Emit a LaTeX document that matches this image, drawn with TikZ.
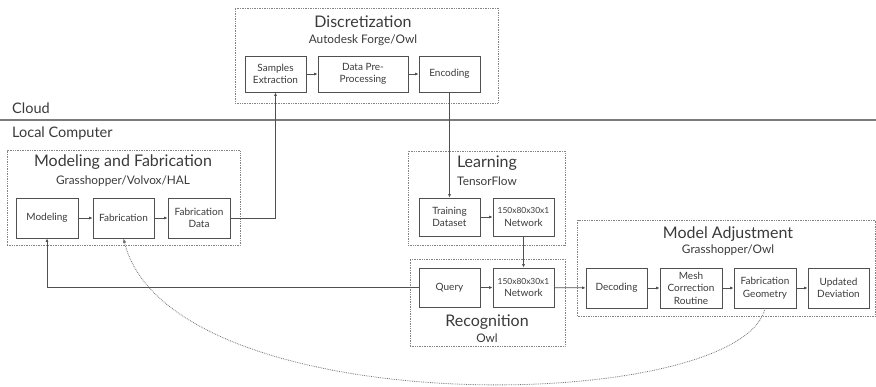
\documentclass[tikz,border=0pt]{standalone}
\usepackage{fontspec}
\setmainfont{Lato}
\usetikzlibrary{arrows.meta,positioning,calc}
\definecolor{myline}{HTML}{505050}
\definecolor{mytext}{HTML}{3A3A3A}
\tikzset{
  mybox/.style = {rectangle, draw=myline, line width=0.9pt, text=mytext, minimum width=61pt, minimum height=38pt, align=center, font=\fontsize{10}{12.5}\selectfont, inner sep=1pt},
  mygroup/.style = {rectangle, draw=myline!70, densely dotted, line width=0.7pt},
  mytitle/.style = {text=mytext, font=\fontsize{16}{18}\selectfont, inner sep=0pt},
  mysub/.style = {text=mytext, font=\fontsize{11.8}{13}\selectfont, inner sep=0pt},
  myarrow/.style = {-{Latex[length=3.4pt,width=3pt]}, draw=myline, line width=0.8pt},
  mydots/.style = {-{Latex[length=4.5pt,width=3.8pt]}, draw=myline!80, densely dotted, line width=0.8pt},
}
\newcommand{\netlabel}{{\fontsize{8.4}{10}\selectfont 150x80x30x1}\\Network}

\begin{document}
\begin{tikzpicture}[x=1pt,y=-1pt]
\useasboundingbox (0,0) rectangle (876,386);

% cloud / local split
\node[text=mytext, font=\fontsize{14.5}{16}\selectfont, anchor=west, inner sep=0pt] (cloud) at (12,108) {Cloud};
\node[text=mytext, font=\fontsize{14.5}{16}\selectfont, anchor=west, inner sep=0pt] (local) at (12,133) {Local Computer};
\draw[myline!75, line width=1.2pt] (0,120) -- (876,120);

% groups
\node[mygroup, minimum width=263pt, minimum height=95pt] (gdisc) at (366.5,55.5) {};
\node[mygroup, minimum width=233pt, minimum height=95pt] (gmod) at (123.5,198) {};
\node[mygroup, minimum width=157pt, minimum height=94pt] (glearn) at (486.5,198) {};
\node[mygroup, minimum width=155pt, minimum height=87pt] (grec) at (487.5,302.5) {};
\node[mygroup, minimum width=298pt, minimum height=96pt] (gadj) at (726.5,268) {};

\node[mytitle] (tdisc) at (363,22) {Discretization};
\node[mysub] (sdisc) at (363,40) {Autodesk Forge/Owl};
\node[mytitle] (tmod) at (123,162) {Modeling and Fabrication};
\node[mysub] (smod) at (123,181) {Grasshopper/Volvox/HAL};
\node[mytitle] (tlearn) at (487,163) {Learning};
\node[mysub] (slearn) at (487,181) {TensorFlow};
\node[mytitle] (trec) at (487,322) {Recognition};
\node[mysub] (srec) at (487,338) {Owl};
\node[mytitle] (tadj) at (728,234) {Model Adjustment};
\node[mysub] (sadj) at (728,250) {Grasshopper/Owl};

% discretization
\node[mybox, minimum height=36pt] (samp) at (275.5,74) {Samples\\Extraction};
\node[mybox, minimum height=36pt, minimum width=90pt] (prep) at (363,74) {Data Pre-\\Processing};
\node[mybox, minimum height=36pt] (enc) at (449.5,74) {Encoding};

% modeling and fabrication
\node[mybox, minimum height=40pt, minimum width=62pt] (model) at (47,218) {Modeling};
\node[mybox, minimum height=40pt] (fab) at (123.5,218) {Fabrication};
\node[mybox, minimum height=40pt, minimum width=62pt] (fdata) at (199,218) {Fabrication\\Data};

% learning
\node[mybox] (train) at (449.5,217) {Training\\Dataset};
\node[mybox] (net1) at (523.5,217) {\netlabel};

% recognition
\node[mybox, minimum height=39pt] (query) at (449.5,287.5) {Query};
\node[mybox, minimum height=39pt] (net2) at (523.5,287.5) {\netlabel};

% model adjustment
\node[mybox, minimum height=40pt] (dec) at (616.5,288) {Decoding};
\node[mybox, minimum height=40pt, minimum width=62pt] (mesh) at (691,288) {Mesh\\Correction\\Routine};
\node[mybox, minimum height=40pt, minimum width=62pt] (fgeo) at (765,288) {Fabrication\\Geometry};
\node[mybox, minimum height=40pt] (upd) at (838.5,288) {Updated\\Deviation};

% connectors
\draw[myarrow] (samp) -- (prep);
\draw[myarrow] (prep) -- (enc);
\draw[myarrow] (model) -- (fab);
\draw[myarrow] (fab) -- (fdata);
\draw[myarrow] (fdata.east) -| (samp.south);
\draw[myarrow] (enc.south) -- (train.north);
\draw[myarrow] (train) -- (net1);
\draw[myarrow] (net1) -- (net2);
\draw[myarrow] (query) -- (net2);
\draw[myarrow] (query.west) -| (model.south);
\draw[myarrow] (net2) -- (dec);
\draw[myarrow] (dec) -- (mesh);
\draw[myarrow] (mesh) -- (fgeo);
\draw[myarrow] (fgeo) -- (upd);
\draw[mydots] (fgeo.south) .. controls (740,415) and (170,425) .. (fab.south);
\end{tikzpicture}
\end{document}
